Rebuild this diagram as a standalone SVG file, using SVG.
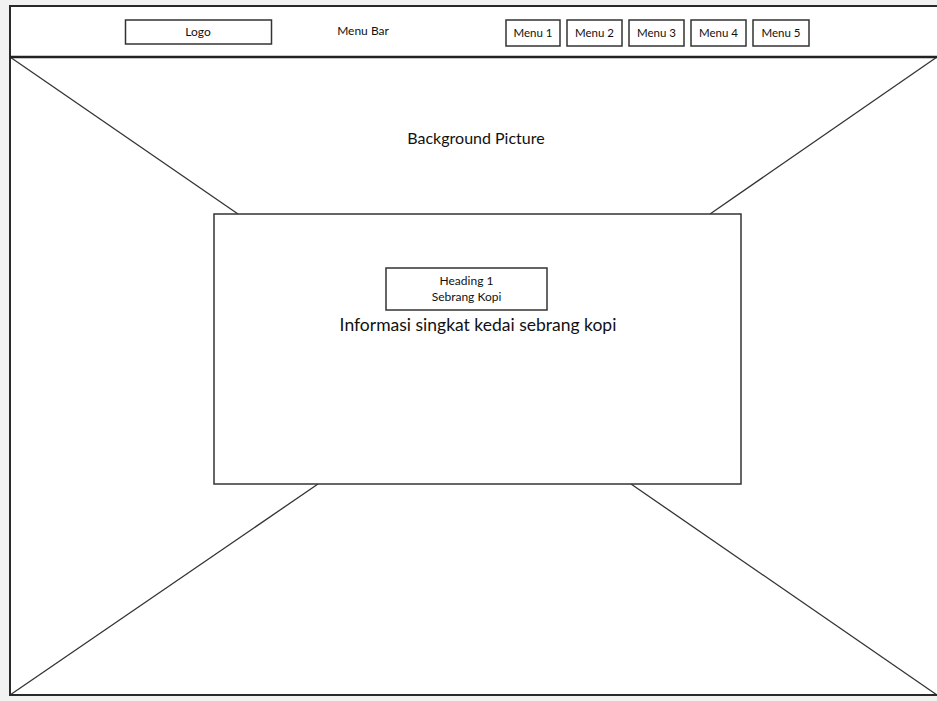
<svg xmlns="http://www.w3.org/2000/svg" width="937" height="701" viewBox="0 0 937 701">
<style>
.frame{fill:none;stroke:#2a2a2a;stroke-width:2}
.box{fill:#fff;stroke:#333;stroke-width:1.5}
.line{stroke:#333;stroke-width:1.3;fill:none}
text{font-family:Lato,"Open Sans","Liberation Sans",sans-serif;fill:#111;text-anchor:middle}
.s{font-size:12px}
.m{font-size:11.5px}
</style>
<rect x="0" y="0" width="937" height="701" fill="#f2f2f2"/>
<rect x="10" y="5" width="927" height="691" fill="#fff"/>
<g id="connectors">
<line class="line" x1="10" y1="57" x2="238" y2="214"/>
<line class="line" x1="937" y1="57" x2="710" y2="214"/>
<line class="line" x1="10" y1="695" x2="318" y2="484"/>
<line class="line" x1="937" y1="695" x2="631" y2="484"/>
</g>
<g id="frame">
<rect class="frame" x="10" y="6" width="928" height="689"/>
<line x1="10" y1="57" x2="937" y2="57" stroke="#222" stroke-width="2.5"/>
</g>
<g id="logo"><rect class="box" x="125.5" y="20" width="146" height="24"/><text class="s" x="198" y="36">Logo</text></g>
<g id="menubar"><text class="s" x="363" y="35">Menu Bar</text></g>
<g id="menu1"><rect class="box" x="506" y="20" width="54" height="26"/><text class="m" x="533" y="37">Menu 1</text></g>
<g id="menu2"><rect class="box" x="567" y="20" width="55" height="26"/><text class="m" x="594.5" y="37">Menu 2</text></g>
<g id="menu3"><rect class="box" x="629" y="20" width="55" height="26"/><text class="m" x="656.5" y="37">Menu 3</text></g>
<g id="menu4"><rect class="box" x="691" y="20" width="55" height="26"/><text class="m" x="718.5" y="37">Menu 4</text></g>
<g id="menu5"><rect class="box" x="753" y="20" width="56" height="26"/><text class="m" x="781" y="37">Menu 5</text></g>
<g id="background-label"><text x="476" y="144" font-size="16">Background Picture</text></g>
<g id="content"><rect class="box" x="214" y="214" width="527" height="270"/>
<text x="478" y="331" font-size="17.5">Informasi singkat kedai sebrang kopi</text></g>
<g id="heading"><rect class="box" x="386" y="268" width="161" height="42"/>
<text class="s" x="466.5" y="285">Heading 1</text><text class="s" x="466.5" y="301">Sebrang Kopi</text></g>
</svg>
